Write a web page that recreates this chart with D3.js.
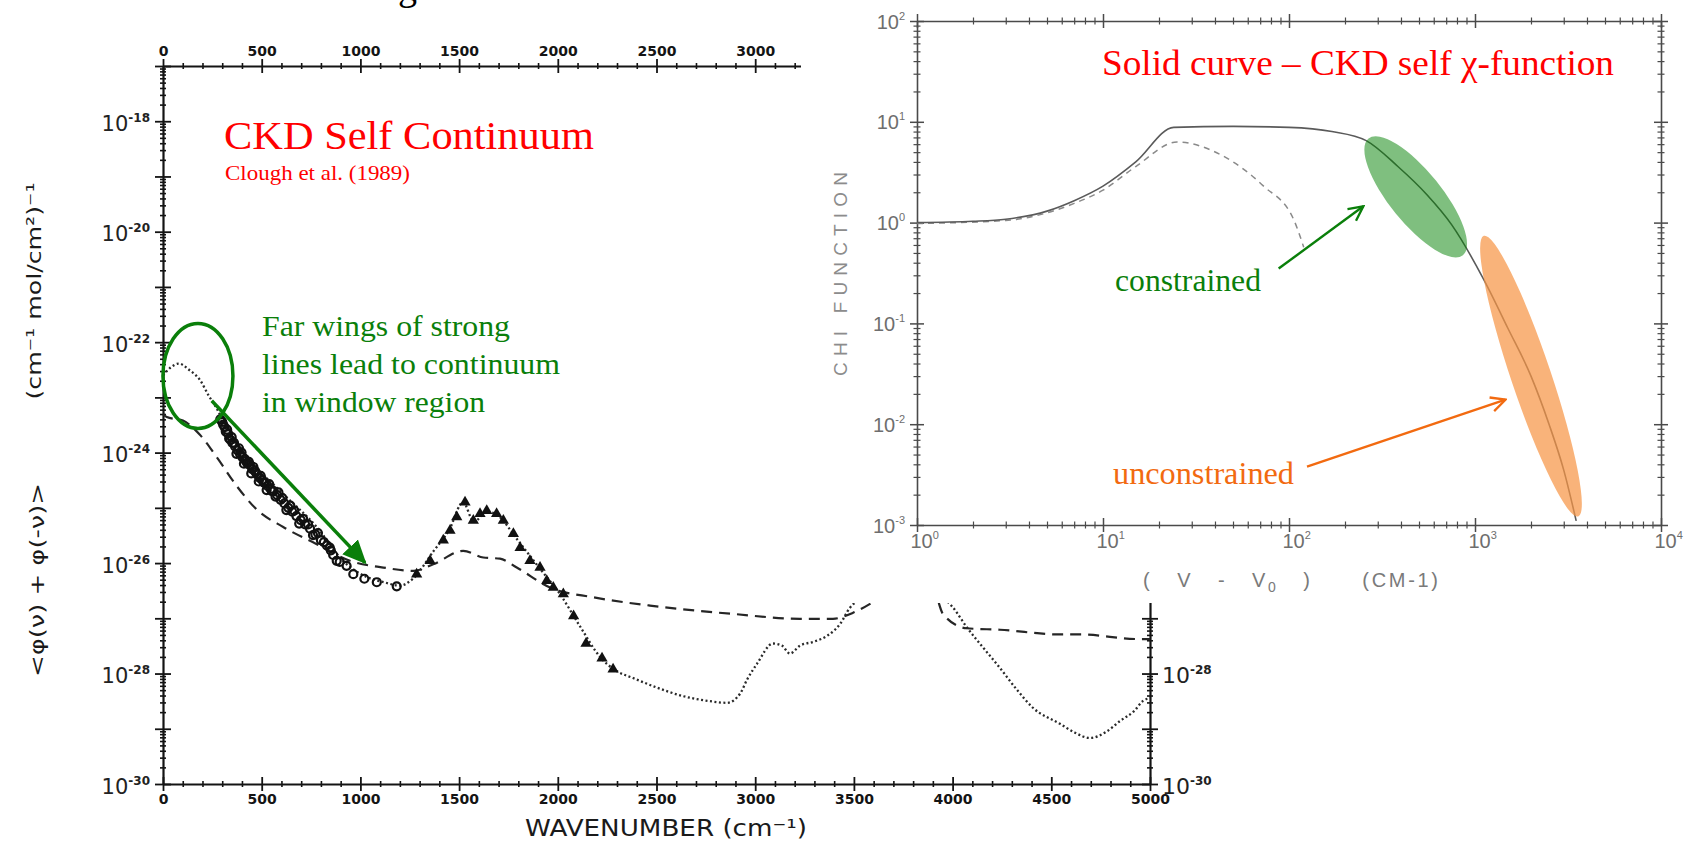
<!DOCTYPE html>
<html>
<head>
<meta charset="utf-8">
<title>CKD self continuum</title>
<script src="https://cdn.jsdelivr.net/npm/d3@7"></script>
<style>
  html, body { margin: 0; background: #fff; }
  svg { display: block; }
  text { white-space: pre; }
</style>
</head>
<body>
<svg id="slide"></svg>
<script>
// ---- main panel: <phi(v)+phi(-v)> against wavenumber (cm-1) ----
const wnTicks = [0, 500, 1000, 1500, 2000, 2500, 3000, 3500, 4000, 4500, 5000];
const wnTicksTop = [0, 500, 1000, 1500, 2000, 2500, 3000];
const coefDecades = [1e-30, 1e-29, 1e-28, 1e-27, 1e-26, 1e-25, 1e-24, 1e-23, 1e-22, 1e-21, 1e-20, 1e-19, 1e-18, 1e-17];
const coefLabels = [1e-30, 1e-28, 1e-26, 1e-24, 1e-22, 1e-20, 1e-18];
const coefLabelsRight = [1e-30, 1e-28];

// dotted curve; null = part hidden behind the inset
const ckdDotted = [
  [0, 2.5e-23], [40, 3.5e-23], [80, 4.1e-23], [130, 3.2e-23], [190, 2.0e-23], [230, 1.1e-23],
  [272, 6.3e-24], [339, 2.2e-24], [441, 7.2e-25], [608, 1.8e-25], [779, 4.5e-26], [912, 1.1e-26],
  [1032, 5.6e-27], [1120, 4.5e-27], [1200, 3.9e-27], [1266, 5.2e-27], [1368, 1.6e-26], [1450, 4.0e-26],
  [1520, 1.26e-25], [1575, 5.6e-26], [1640, 8.5e-26], [1700, 7.1e-26], [1790, 2.8e-26], [1910, 7.9e-27],
  [2011, 2.75e-27], [2112, 7.2e-28], [2214, 2.0e-28], [2300, 1.1e-28], [2381, 8.3e-29], [2500, 5.6e-29],
  [2634, 3.9e-29], [2760, 3.2e-29], [2857, 2.95e-29], [2923, 4.3e-29], [2960, 7.9e-29], [3009, 1.5e-28],
  [3090, 3.5e-28], [3136, 3.2e-28], [3176, 2.3e-28], [3227, 3.2e-28], [3300, 3.8e-28], [3364, 4.8e-28],
  [3430, 7.9e-28], [3480, 1.55e-27], [3510, 2.0e-27],
  null,
  [3975, 2.0e-27], [4000, 1.6e-27], [4073, 6.8e-28], [4160, 2.8e-28], [4240, 1.26e-28], [4320, 5.4e-29],
  [4407, 2.4e-29], [4544, 1.23e-29], [4620, 8.5e-30], [4696, 6.8e-30], [4780, 8.9e-30], [4848, 1.38e-29],
  [4920, 2.1e-29], [4965, 3.2e-29], [5000, 3.6e-29]
];

const otherDashed = [
  [0, 5.0e-24], [19, 4.4e-24], [101, 3.8e-24], [187, 2.1e-24], [272, 8.3e-25], [373, 2.5e-25],
  [475, 9.3e-26], [609, 4.5e-26], [779, 2.2e-26], [947, 1.1e-26], [1116, 8.3e-27], [1268, 7.2e-27],
  [1369, 9.5e-27], [1521, 1.66e-26], [1623, 1.26e-26], [1707, 1.2e-26], [1792, 8.3e-27], [1961, 3.6e-27],
  [2180, 2.4e-27], [2467, 1.7e-27], [2888, 1.2e-27], [3227, 9.8e-28], [3394, 9.8e-28], [3496, 1.26e-27],
  [3600, 2.0e-27],
  null,
  [3930, 1.9e-27], [3951, 1.2e-27], [4071, 6.6e-28], [4240, 6.2e-28], [4544, 5.1e-28], [4645, 5.1e-28],
  [4949, 4.2e-28], [5000, 4.2e-28]
];

const measuredCircles = [
  [290, 4.0e-24], [300, 3.6e-24], [305, 3.2e-24], [312, 2.9e-24], [318, 2.4e-24], [325, 2.6e-24],
  [330, 2.2e-24], [335, 1.8e-24], [342, 1.7e-24], [348, 1.9e-24], [352, 1.5e-24], [360, 1.5e-24],
  [365, 1.3e-24], [372, 9.5e-25], [378, 1.1e-24], [385, 1.2e-24], [390, 9.5e-25], [398, 1.0e-24],
  [402, 8.3e-25], [410, 6.3e-25], [415, 7.6e-25], [420, 7.0e-25], [428, 6.3e-25], [435, 6.8e-25],
  [440, 6.0e-25], [447, 4.2e-25], [452, 5.0e-25], [458, 5.5e-25], [465, 4.7e-25], [470, 4.4e-25],
  [478, 4.0e-25], [485, 3.0e-25], [490, 3.5e-25], [495, 3.8e-25], [503, 3.2e-25], [510, 2.9e-25],
  [516, 2.8e-25], [525, 2.1e-25], [530, 2.5e-25], [538, 2.7e-25], [545, 2.2e-25], [552, 2.0e-25],
  [560, 2.0e-25], [570, 1.6e-25], [578, 1.7e-25], [585, 1.9e-25], [596, 1.4e-25], [605, 1.5e-25],
  [615, 1.2e-25], [625, 9.1e-26], [635, 1.0e-25], [645, 1.1e-25], [655, 8.5e-26], [665, 8.9e-26],
  [676, 7.1e-26], [690, 5.2e-26], [698, 6.0e-26], [710, 6.3e-26], [720, 5.0e-26], [735, 5.0e-26],
  [745, 4.2e-26], [760, 3.2e-26], [772, 3.3e-26], [785, 3.5e-26], [800, 2.6e-26], [815, 2.4e-26],
  [830, 2.1e-26], [845, 1.9e-26], [850, 1.7e-26], [862, 1.4e-26], [880, 1.1e-26], [895, 1.05e-26],
  [930, 8.9e-27], [964, 6.3e-27], [1020, 5.2e-27], [1083, 4.5e-27], [1184, 3.8e-27]
];

const measuredTriangles = [
  [1285, 6.3e-27], [1353, 1.1e-26], [1420, 2.6e-26], [1454, 3.9e-26], [1488, 6.8e-26], [1530, 1.26e-25],
  [1572, 5.9e-26], [1606, 7.8e-26], [1640, 8.9e-26], [1690, 7.8e-26], [1724, 5.9e-26], [1775, 3.4e-26],
  [1809, 1.9e-26], [1859, 1.1e-26], [1910, 8.3e-27], [1944, 4.8e-27], [1977, 3.6e-27], [2028, 2.75e-27],
  [2080, 1.1e-27], [2143, 3.5e-28], [2224, 1.9e-28], [2280, 1.2e-28]
];

// ---- inset: chi function against (v - v0) ----
const chiDecadesX = [1, 10, 100, 1000, 10000];
const chiDecadesY = [1e-3, 1e-2, 1e-1, 1, 10, 100];
const chiSolid = [
  [1, 1.0], [2, 1.03], [3, 1.08], [5, 1.3], [7, 1.65], [10, 2.3], [15, 4.0], [24, 8.8], [50, 9.0],
  [100, 8.8], [170, 8.0], [260, 6.5], [385, 3.6], [550, 1.9], [750, 0.95], [1117, 0.27], [1500, 0.09],
  [2000, 0.03], [2500, 0.01], [3000, 0.0035], [3500, 0.0011]
];
const chiDashed = [
  [1, 0.98], [3, 1.05], [7, 1.55], [10, 2.1], [15, 3.6], [25, 6.3], [44, 4.6], [73, 2.3], [106, 1.07], [120, 0.57]
];

const svg = d3.select('#slide').attr('width', 1686).attr('height', 843);

const defs = svg.append('defs');
defs.append('marker').attr('id', 'headSolid')
  .attr('viewBox', '0 0 10 10').attr('refX', 9).attr('refY', 5)
  .attr('markerUnits', 'userSpaceOnUse').attr('markerWidth', 24).attr('markerHeight', 24)
  .attr('orient', 'auto')
  .append('path').attr('d', 'M0,0.5 L10,5 L0,9.5 Z').attr('fill', '#0a7f0a');
[['headGreen', '#0a7f0a'], ['headOrange', '#f26a10']].forEach(([id, col]) => {
  defs.append('marker').attr('id', id)
    .attr('viewBox', '0 0 10 10').attr('refX', 9).attr('refY', 5)
    .attr('markerUnits', 'userSpaceOnUse').attr('markerWidth', 18).attr('markerHeight', 18)
    .attr('orient', 'auto')
    .append('path').attr('d', 'M1,1 L9,5 L1,9').attr('fill', 'none')
    .attr('stroke', col).attr('stroke-width', 1.3);
});

function addPower(tick, o) {
  const t = tick.append('text')
    .attr('x', o.x).attr('y', o.y)
    .attr('text-anchor', o.anchor)
    .attr('fill', o.color)
    .attr('font-family', o.family)
    .attr('font-size', o.base);
  t.append('tspan').text('10');
  t.append('tspan')
    .attr('font-size', o.sup).attr('dy', o.dy).attr('font-weight', o.supWeight || 'normal')
    .text(d => String(Math.round(Math.log10(d))));
}

class ContinuumChart {
  constructor(_config) {
    this.config = {
      parentElement: _config.parentElement,
      left: 163, right: 1150, top: 66, bottom: 784
    };
    this.initVis();
  }

  initVis() {
    let vis = this;
    const c = vis.config;
    vis.xScale = d3.scaleLinear().domain([0, 5000]).range([c.left, c.right]);
    vis.yScale = d3.scaleLog().domain([1e-30, 1e-17]).range([c.bottom, c.top]);
    vis.g = c.parentElement.append('g').attr('class', 'continuum');
    vis.renderAxes();
    vis.renderVis();
  }

  renderAxes() {
    let vis = this;
    const c = vis.config, x = vis.xScale, y = vis.yScale;
    const ink = '#141414';
    const wnMinor = d3.range(0, 5001, 100).filter(v => v % 500);
    const coefMinor = coefDecades.slice(0, -1).flatMap(d => [2, 3, 4, 5, 6, 7, 8, 9].map(k => k * d));

    const axisG = (axis, tx, ty) => vis.g.append('g')
      .attr('transform', `translate(${tx},${ty})`)
      .attr('color', ink)
      .call(axis.tickSizeOuter(0));
    const wnLabels = g => g.selectAll('text')
      .attr('font-family', 'DejaVu Sans').attr('font-weight', 'bold').attr('font-size', 14);

    // bottom
    axisG(d3.axisBottom(x).tickValues(wnMinor).tickSize(3).tickFormat(''), 0, c.bottom)
      .call(g => g.select('.domain').remove())
      .selectAll('.tick line').attr('y1', -3).attr('stroke-width', 1.6);
    const bottom = axisG(d3.axisBottom(x).tickValues(wnTicks).tickSize(7).tickFormat(d3.format('d')), 0, c.bottom);
    bottom.selectAll('.tick line').attr('y1', -7).attr('stroke-width', 1.8);
    bottom.select('.domain').attr('stroke-width', 2.2);
    bottom.call(wnLabels);

    // top (its right part lies under the inset)
    axisG(d3.axisTop(x).tickValues(wnMinor.filter(v => v < 3300)).tickSize(3).tickFormat(''), 0, c.top)
      .call(g => g.select('.domain').remove())
      .selectAll('.tick line').attr('y1', 3).attr('stroke-width', 1.6);
    const top = axisG(d3.axisTop(x).tickValues(wnTicksTop).tickSize(7).tickFormat(d3.format('d')), 0, c.top);
    top.selectAll('.tick line').attr('y1', 7).attr('stroke-width', 1.8);
    top.select('.domain').attr('stroke-width', 2.2);
    top.call(wnLabels);

    // left
    axisG(d3.axisLeft(y).tickValues(coefMinor).tickSize(3).tickFormat(''), c.left, 0)
      .call(g => g.select('.domain').remove())
      .selectAll('.tick line').attr('x1', 3).attr('stroke-width', 1.6);
    const left = axisG(d3.axisLeft(y).tickValues(coefDecades).tickSize(8).tickFormat(''), c.left, 0);
    left.selectAll('.tick line').attr('x1', 8).attr('stroke-width', 1.8);
    left.select('.domain').attr('stroke-width', 2.2);
    left.selectAll('.tick').filter(d => coefLabels.includes(d))
      .call(addPower, { x: -13, y: 9, anchor: 'end', color: '#222', family: 'DejaVu Sans',
        base: 21, sup: 12, dy: -9, supWeight: 'bold' });

    // right
    axisG(d3.axisRight(y).tickValues(coefMinor).tickSize(3).tickFormat(''), c.right, 0)
      .call(g => g.select('.domain').remove())
      .selectAll('.tick line').attr('x1', -3).attr('stroke-width', 1.6);
    const right = axisG(d3.axisRight(y).tickValues(coefDecades).tickSize(8).tickFormat(''), c.right, 0);
    right.selectAll('.tick line').attr('x1', -8).attr('stroke-width', 1.8);
    right.select('.domain').attr('stroke-width', 2.2);
    right.selectAll('.tick').filter(d => coefLabelsRight.includes(d))
      .call(addPower, { x: 12, y: 9, anchor: 'start', color: '#222', family: 'DejaVu Sans',
        base: 22, sup: 12, dy: -9, supWeight: 'bold' });

    // axis titles
    vis.g.append('text')
      .attr('x', 525).attr('y', 836)
      .attr('font-family', 'DejaVu Sans').attr('font-size', 23).attr('fill', '#1a1a1a')
      .attr('textLength', 282).attr('lengthAdjust', 'spacingAndGlyphs')
      .text('WAVENUMBER (cm⁻¹)');
    vis.g.append('text')
      .attr('transform', 'translate(41,291) rotate(-90)')
      .attr('text-anchor', 'middle')
      .attr('font-family', 'DejaVu Sans').attr('font-size', 20).attr('fill', '#1a1a1a')
      .attr('textLength', 217).attr('lengthAdjust', 'spacingAndGlyphs')
      .text('(cm⁻¹ mol/cm²)⁻¹');
    vis.g.append('text')
      .attr('transform', 'translate(44,580) rotate(-90)')
      .attr('text-anchor', 'middle')
      .attr('font-family', 'DejaVu Sans').attr('font-size', 20).attr('fill', '#1a1a1a')
      .attr('textLength', 194).attr('lengthAdjust', 'spacingAndGlyphs')
      .text('<φ(ν) + φ(-ν)>');
  }

  renderVis() {
    let vis = this;
    const x = vis.xScale, y = vis.yScale;

    const line = d3.line()
      .defined(d => d !== null)
      .x(d => x(d[0]))
      .y(d => y(d[1]))
      .curve(d3.curveMonotoneX);

    vis.g.append('path')
      .datum(otherDashed)
      .attr('d', line)
      .attr('fill', 'none').attr('stroke', '#262626')
      .attr('stroke-width', 2.2).attr('stroke-dasharray', '11 7');

    vis.g.append('path')
      .datum(ckdDotted)
      .attr('d', line)
      .attr('fill', 'none').attr('stroke', '#2a2a2a')
      .attr('stroke-width', 2.3).attr('stroke-dasharray', '2 2.5');

    vis.g.selectAll('circle.obs')
      .data(measuredCircles)
      .join('circle')
      .attr('class', 'obs')
      .attr('cx', d => x(d[0]))
      .attr('cy', d => y(d[1]))
      .attr('r', 4)
      .attr('fill', 'none').attr('stroke', '#111').attr('stroke-width', 2.2);

    vis.g.selectAll('path.tri')
      .data(measuredTriangles)
      .join('path')
      .attr('class', 'tri')
      .attr('d', d3.symbol(d3.symbolTriangle, 55))
      .attr('transform', d => `translate(${x(d[0])},${y(d[1])})`)
      .attr('fill', '#111');

    // annotations
    vis.g.append('text')
      .attr('x', 224).attr('y', 149)
      .attr('font-family', 'Liberation Serif, Times New Roman, serif').attr('font-size', 41)
      .attr('fill', '#ff0000')
      .attr('textLength', 370).attr('lengthAdjust', 'spacingAndGlyphs')
      .text('CKD Self Continuum');
    vis.g.append('text')
      .attr('x', 225).attr('y', 180)
      .attr('font-family', 'Liberation Serif, Times New Roman, serif').attr('font-size', 22)
      .attr('fill', '#ff0000')
      .attr('textLength', 185).attr('lengthAdjust', 'spacingAndGlyphs')
      .text('Clough et al. (1989)');

    const notes = ['Far wings of strong', 'lines lead to continuum', 'in window region'];
    const noteLen = [248, 298, 223];
    vis.g.selectAll('text.note')
      .data(notes)
      .join('text')
      .attr('class', 'note')
      .attr('x', 262).attr('y', (d, i) => 336 + i * 38)
      .attr('font-family', 'Liberation Serif, Times New Roman, serif').attr('font-size', 30)
      .attr('fill', '#0a7f0a')
      .attr('textLength', (d, i) => noteLen[i]).attr('lengthAdjust', 'spacingAndGlyphs')
      .text(d => d);

    vis.g.append('ellipse')
      .attr('cx', x(177)).attr('cy', y(2.45e-23))
      .attr('rx', 35).attr('ry', 52.5)
      .attr('fill', 'none').attr('stroke', '#0a7f0a').attr('stroke-width', 3.5);

    vis.g.append('line')
      .attr('x1', x(247)).attr('y1', y(8.7e-24))
      .attr('x2', x(1023)).attr('y2', y(1.02e-26))
      .attr('stroke', '#0a7f0a').attr('stroke-width', 3.5)
      .attr('marker-end', 'url(#headSolid)');
  }
}

class ChiChart {
  constructor(_config) {
    this.config = {
      parentElement: _config.parentElement,
      left: 917, right: 1661, top: 21, bottom: 525
    };
    this.initVis();
  }

  initVis() {
    let vis = this;
    const c = vis.config;
    // the inset is pasted on top of the main panel
    c.parentElement.append('rect')
      .attr('x', 801).attr('y', 0).attr('width', 885).attr('height', 603)
      .attr('fill', '#fff');
    vis.xScale = d3.scaleLog().domain([1, 1e4]).range([c.left, c.right]);
    vis.yScale = d3.scaleLog().domain([1e-3, 1e2]).range([c.bottom, c.top]);
    vis.g = c.parentElement.append('g').attr('class', 'chi');
    vis.renderAxes();
    vis.renderVis();
  }

  renderAxes() {
    let vis = this;
    const c = vis.config, x = vis.xScale, y = vis.yScale;
    const ink = '#4a4a4a';
    const xMinor = x.ticks().filter(v => !chiDecadesX.includes(v));
    const yMinor = y.ticks().filter(v => !chiDecadesY.includes(v));

    const axisG = (axis, tx, ty) => vis.g.append('g')
      .attr('transform', `translate(${tx},${ty})`)
      .attr('color', ink)
      .call(axis.tickSizeOuter(0).tickFormat(''));

    const sides = [
      [d3.axisBottom(x), 0, c.bottom, 'y1', -1, xMinor, chiDecadesX],
      [d3.axisTop(x), 0, c.top, 'y1', 1, xMinor, chiDecadesX],
      [d3.axisLeft(y), c.left, 0, 'x1', 1, yMinor, chiDecadesY],
      [d3.axisRight(y), c.right, 0, 'x1', -1, yMinor, chiDecadesY]
    ];
    vis.sideG = sides.map(([axis, tx, ty, attr, sign, minor, major]) => {
      axisG(axis.tickValues(minor).tickSize(3.5), tx, ty)
        .call(g => g.select('.domain').remove())
        .selectAll('.tick line').attr(attr, sign * 3.5).attr('stroke-width', 1.2);
      const g = axisG(axis.tickValues(major).tickSize(7), tx, ty);
      g.selectAll('.tick line').attr(attr, sign * 7).attr('stroke-width', 1.5);
      g.select('.domain').attr('stroke-width', 1.6);
      return g;
    });

    vis.sideG[0].selectAll('.tick')
      .call(addPower, { x: -7, y: 23, anchor: 'start', color: '#6e6e6e', family: 'Liberation Sans',
        base: 20, sup: 11, dy: -9 });
    vis.sideG[2].selectAll('.tick')
      .call(addPower, { x: -12, y: 7, anchor: 'end', color: '#6e6e6e', family: 'Liberation Sans',
        base: 20, sup: 11, dy: -9 });

    vis.g.append('text')
      .attr('transform', 'translate(847,274) rotate(-90)')
      .attr('text-anchor', 'middle')
      .attr('font-family', 'Liberation Sans').attr('font-size', 19).attr('fill', '#8c8c8c')
      .attr('textLength', 204).attr('lengthAdjust', 'spacing')
      .text('CHI FUNCTION');

    const xl = vis.g.append('text')
      .attr('x', 1143).attr('y', 587)
      .attr('font-family', 'Liberation Sans').attr('font-size', 20).attr('fill', '#7a7a7a')
      .attr('textLength', 295).attr('lengthAdjust', 'spacing');
    xl.append('tspan').text('(   V   -   V');
    xl.append('tspan').attr('font-size', 14).attr('dy', 5).text('0');
    xl.append('tspan').attr('dy', -5).text('   )      (CM-1)');
  }

  renderVis() {
    let vis = this;
    const x = vis.xScale, y = vis.yScale;
    const line = d3.line().x(d => x(d[0])).y(d => y(d[1])).curve(d3.curveMonotoneX);

    vis.g.append('path')
      .datum(chiDashed)
      .attr('d', line)
      .attr('fill', 'none').attr('stroke', '#8a8a8a')
      .attr('stroke-width', 1.5).attr('stroke-dasharray', '6 5');
    vis.g.append('path')
      .datum(chiSolid)
      .attr('d', line)
      .attr('fill', 'none').attr('stroke', '#5a5a5a').attr('stroke-width', 1.6);

    // shaded regions along the solid curve
    vis.g.append('ellipse')
      .attr('transform', `translate(${x(480)},${y(1.8)}) rotate(51)`)
      .attr('rx', 75).attr('ry', 26)
      .attr('fill', '#008000').attr('fill-opacity', 0.5);
    vis.g.append('ellipse')
      .attr('transform', `translate(${x(2000)},${y(0.03)}) rotate(71.4)`)
      .attr('rx', 148).attr('ry', 20)
      .attr('fill', '#f79646').attr('fill-opacity', 0.72);

    vis.g.append('text')
      .attr('x', 1102).attr('y', 75)
      .attr('font-family', 'Liberation Serif, Times New Roman, serif').attr('font-size', 35)
      .attr('fill', '#ff0000')
      .attr('textLength', 512).attr('lengthAdjust', 'spacingAndGlyphs')
      .text('Solid curve – CKD self χ-function');

    vis.g.append('text')
      .attr('x', 1115).attr('y', 291)
      .attr('font-family', 'Liberation Serif, Times New Roman, serif').attr('font-size', 31)
      .attr('fill', '#0a7f0a')
      .attr('textLength', 146).attr('lengthAdjust', 'spacingAndGlyphs')
      .text('constrained');
    vis.g.append('line')
      .attr('x1', x(88)).attr('y1', y(0.35))
      .attr('x2', x(251)).attr('y2', y(1.45))
      .attr('stroke', '#0a7f0a').attr('stroke-width', 2.4)
      .attr('marker-end', 'url(#headGreen)');

    vis.g.append('text')
      .attr('x', 1113).attr('y', 484)
      .attr('font-family', 'Liberation Serif, Times New Roman, serif').attr('font-size', 31)
      .attr('fill', '#f26a10')
      .attr('textLength', 181).attr('lengthAdjust', 'spacingAndGlyphs')
      .text('unconstrained');
    vis.g.append('line')
      .attr('x1', x(125)).attr('y1', y(0.0038))
      .attr('x2', x(1459)).attr('y2', y(0.0175))
      .attr('stroke', '#f26a10').attr('stroke-width', 2.4)
      .attr('marker-end', 'url(#headOrange)');
  }
}

new ContinuumChart({ parentElement: svg });
new ChiChart({ parentElement: svg });

// bottom of a cut-off slide title letter
svg.append('text')
  .attr('x', 398).attr('y', 0)
  .attr('font-family', 'Liberation Serif, serif').attr('font-size', 38)
  .text('g');
</script>
</body>
</html>
